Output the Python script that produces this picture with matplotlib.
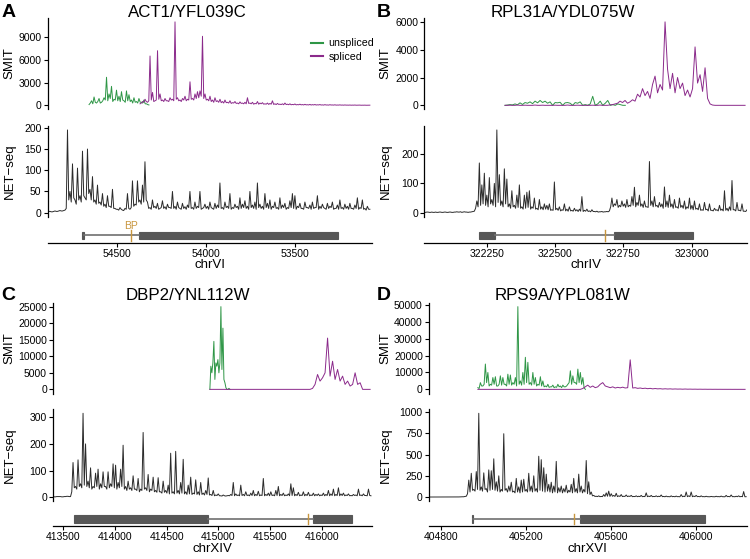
import numpy as np
import matplotlib.pyplot as plt
from matplotlib.patches import Rectangle
from matplotlib.transforms import blended_transform_factory

plt.rcParams['font.family'] = ['Liberation Sans', 'DejaVu Sans']

# ---------------- data ----------------
# A: ACT1/YFL039C, chrVI (minus strand, axis reversed)
act1_xlim = (54893, 53066)
act1_xticks = [54500, 54000, 53500]
act1_smit_ticks = [0, 3000, 6000, 9000]
act1_net_ticks = [0, 50, 100, 150, 200]
act1_net_span = (54893, 53078)
act1_net = [2, 3, 3, 2, 2, 3, 4, 3, 3, 4, 5, 4, 4, 5, 6, 10,
            195, 30, 50, 25, 115, 35, 30, 20, 105, 30, 40, 25, 145, 40, 35, 30, 150, 45,
            55, 30, 85, 25, 30, 20, 65, 22, 25, 18, 45, 15, 20, 12, 40, 15, 15, 12, 55, 10,
            10, 8, 8, 6, 12, 8, 6, 5, 10, 8,
            45, 10, 8, 12, 75, 15, 20, 18, 75, 25, 30, 20, 65, 25, 120, 30,
            25, 10, 12, 8, 30, 12, 15, 10, 22, 8, 10, 12, 28, 10, 14, 8, 20, 12, 12, 10,
            50, 10, 15, 8, 25, 12, 10, 8, 22, 10, 14, 8, 18, 12, 50, 10, 12, 8, 25, 10,
            15, 12, 50, 8, 10, 12, 20, 10, 15, 8, 25, 12, 10, 8, 22, 10, 18, 12, 70, 10,
            12, 8, 25, 12, 15, 10, 45, 8, 12, 10, 20, 12, 15, 8, 35, 10, 20, 12, 28, 10,
            15, 8, 50, 12, 18, 10, 25, 8, 70, 12, 20, 10, 15, 8, 45, 12, 22, 10, 30, 8,
            15, 12, 25, 10, 12, 8, 35, 10, 18, 12, 22, 8, 12, 10, 28, 12, 45, 10, 40, 8,
            15, 12, 22, 10, 10, 8, 25, 12, 12, 10, 18, 8, 25, 10, 12, 12, 40, 8, 15, 10,
            20, 12, 10, 8, 22, 10, 15, 12, 25, 8, 10, 10, 18, 8, 30, 10, 12, 8, 20, 10,
            15, 8, 22, 10, 10, 8, 18, 10, 35, 8, 12, 10, 30, 8, 10, 6, 15, 8, 8]
act1_unspliced_span = (54659, 54322)
act1_unspliced = [100, 300, 600, 200, 1100, 400, 300, 500, 900, 300, 400, 600, 1000, 700,
                  3700, 600, 1500, 900, 2500, 500, 800, 700, 2000, 600, 1200, 500, 1800,
                  700, 600, 400, 1900, 600, 1400, 500, 700, 300, 1000, 400, 500, 300, 900,
                  400, 400, 300, 700, 200, 200, 100, 50]
act1_spliced_span = (54372, 53078)
act1_spliced = [200, 300, 500, 400, 800, 500, 400, 600, 6500, 700, 1700, 500, 600, 700,
                7200, 800, 1500, 600, 700, 500, 900, 600, 600, 500, 1000, 700, 800, 600,
                11000, 800, 1000, 600, 700, 500, 900, 700, 1200, 600, 800, 700, 3100, 800,
                900, 700, 1500, 900, 1800, 1000, 1900, 1200, 9100, 900, 1500, 700, 800,
                600, 1200, 500, 700, 400, 1000, 500, 600, 400, 800, 350, 500, 300, 700,
                350, 400, 300, 600, 250, 350, 300, 500, 250, 300, 200, 450, 250, 300, 200,
                400, 200, 1000, 250, 300, 200, 400, 150, 250, 200, 500, 150, 300, 200, 350,
                150, 200, 150, 300, 120, 250, 150, 600, 120, 200, 100, 250, 120, 150, 100,
                200, 80, 300, 100, 150, 80, 200, 70, 120, 80, 180, 60, 100, 70, 150, 60,
                100, 50, 130, 60, 80, 50, 120, 40, 90, 50, 110, 40, 70, 50, 100, 40, 60, 30,
                90, 40, 50, 30, 80, 40, 50, 30, 70, 25, 40, 30, 60, 25, 40, 20, 50, 25, 30,
                20, 40, 15, 30, 20, 40, 15, 20, 15, 30, 10, 20, 15, 25, 10, 15, 10, 20]
act1_exons = [(54687, 54696), (53260, 54377)]
act1_bp = 54423

# B: RPL31A/YDL075W, chrIV
rpl31a_xlim = (322022, 323202)
rpl31a_xticks = [322250, 322500, 322750, 323000]
rpl31a_smit_ticks = [0, 2000, 4000, 6000]
rpl31a_net_ticks = [0, 100, 200]
rpl31a_net_span = (322022, 323202)
rpl31a_net = [1, 1, 2, 2, 1, 1, 2, 1, 1, 2, 1, 1, 2, 2, 1, 1, 2, 2, 1, 1, 2, 2, 1, 1, 2, 2,
              3, 2, 2, 3, 1, 2, 3, 2, 2, 1, 2, 2, 3, 4, 5, 15,
              40, 20, 170, 25, 95, 30, 135, 25, 60, 20, 120, 30, 45, 25, 100, 20, 283, 35,
              130, 25, 40, 20, 150, 30, 115, 20, 30, 15, 75, 20, 25, 15, 60, 18, 95, 15,
              20, 12, 60, 15, 70, 18, 75, 12, 20, 15, 50, 12, 15, 10, 45, 12, 20, 10, 30,
              12, 25, 10, 30, 8, 10, 8,
              105, 10, 15, 8, 20, 6, 10, 8, 30, 6, 12, 5, 20, 6, 8, 5, 15, 6, 10, 4, 12, 5,
              55, 4, 8, 5, 12, 4, 6, 3, 10, 4, 4, 3, 5, 2, 3, 3, 4, 2, 3, 3, 4, 3, 6, 20,
              50, 20, 30, 25, 45, 18, 25, 20, 40, 22, 30, 18, 45, 20, 25, 22, 55, 25, 87,
              20, 35, 25, 60, 22, 30, 18, 40, 20, 20, 18, 175, 25, 40, 20, 55, 22, 25, 18,
              35, 20, 30, 15, 88, 20, 40, 18, 60, 20, 30, 15, 45, 18, 20, 15, 50, 18, 25,
              15, 40, 12, 20, 15, 50, 12, 25, 10, 40, 12, 15, 10, 30, 8, 10, 8, 35, 10, 12,
              6, 30, 8, 8, 6, 15, 8, 10, 6, 25, 8, 12, 6, 75, 8, 15, 6, 20, 8, 110, 10, 10,
              6, 35, 8, 8, 6, 30, 5, 5, 4, 10]
rpl31a_unspliced_span = (322317, 322757)
rpl31a_unspliced = [0, 20, 50, 30, 100, 40, 180, 60, 200, 150, 250, 120, 300, 180, 350,
                    200, 300, 150, 250, 0, 200, 180, 220, 0, 180, 200, 150, 0, 200, 150,
                    250, 0, 50, 0, 100, 650, 0, 100, 300, 0, 150, 350, 0, 50, 0, 100,
                    50, 0, 0]
rpl31a_spliced_span = (322317, 323195)
rpl31a_spliced = [0, 0, 10, 0, 0, 20, 0, 0, 10, 0, 0, 0, 20, 0, 0, 10, 0, 0, 0, 0, 10,
                  0, 0, 0, 0, 20, 0, 0, 0, 10, 0, 0, 0, 0, 0, 10, 0, 0, 20, 0, 0, 0, 30,
                  50, 100, 150, 300, 200, 350, 150, 250, 400, 300, 800, 600, 1200, 700,
                  1000, 500, 1500, 2100, 900, 1500, 1100, 6000, 2600, 1200, 2300, 900,
                  2000, 1200, 1600, 700, 1100, 600, 1200, 4200, 1600, 2200, 1000, 2700,
                  500, 100, 20, 0, 0, 0, 0, 0, 0, 0, 0, 0, 0, 0, 0, 0]
rpl31a_exons = [(322223, 322281), (322714, 323003)]
rpl31a_bp = 322683

# C: DBP2/YNL112W, chrXIV
dbp2_xlim = (413403, 416484)
dbp2_xticks = [413500, 414000, 414500, 415000, 415500, 416000]
dbp2_smit_ticks = [0, 5000, 10000, 15000, 20000, 25000]
dbp2_net_ticks = [0, 100, 200, 300]
dbp2_net_span = (413403, 416474)
dbp2_net = [2, 1, 1, 2, 2, 2, 2, 1, 1, 2, 2, 3, 3, 2, 2, 20,
            130, 35, 40, 30, 140, 40, 50, 35, 315, 45, 200, 40, 60, 35, 110, 30, 40, 35,
            90, 40, 105, 30, 50, 35, 95, 40, 40, 30, 95, 35, 50, 40, 125, 35, 120, 30, 55,
            35, 105, 40, 195, 30, 40, 25, 60, 30, 35, 25, 80, 30, 30, 25, 70, 20, 30, 25,
            243, 30, 35, 25, 85, 20, 30, 25, 75, 20, 25, 18, 73, 20, 20, 15, 60, 18, 25,
            15, 45, 12, 165, 15, 20, 12, 172, 15, 25, 12, 55, 15, 142, 12, 20, 10, 45, 12,
            75, 10, 15, 12, 65, 10, 20, 8, 55, 10, 15, 8, 25, 10, 72, 8,
            10, 6, 25, 5, 8, 6, 12, 5, 5, 4, 8, 5, 4, 5, 6, 5, 10, 6, 55, 5, 12, 6, 8, 5,
            45, 6, 10, 5, 20, 6, 8, 5, 15, 6, 25, 5, 10, 6, 22, 5, 8, 6, 70, 5, 10, 6, 15,
            5, 20, 6, 8, 5, 25, 6, 40, 5, 10, 6, 15, 5, 8, 6, 12, 5, 50, 6, 35, 5, 10, 6,
            18, 5, 8, 6, 20, 5, 10, 6, 18, 5, 8, 6, 15, 5, 10, 6, 12, 5, 8, 6, 15, 5, 10,
            6, 25, 5, 12, 6, 30, 5, 10, 6, 35, 5, 12, 6, 15, 5, 8, 6, 12, 5, 6, 5, 10, 6,
            8, 5, 30, 6, 8, 5, 12, 6, 6, 5, 30, 6, 5]
dbp2_unspliced_span = (414918, 415112)
dbp2_unspliced = [0, 7000, 5000, 8000, 14500, 3000, 8000, 7000, 9000, 5000, 8000,
                  25000, 6000, 18500, 3000, 2000, 500, 0, 0, 300, 0]
dbp2_spliced_span = (414918, 416466)
dbp2_spliced = [0, 0, 0, 0, 0, 0, 0, 0, 0, 0, 0, 0, 0, 0, 0, 0, 0, 0, 0, 0, 0,
                0, 0, 0, 0, 0, 0, 0, 0, 0, 0, 0, 0, 0, 0, 0, 0, 0, 0, 0, 0,
                300, 1500, 4500, 2500, 3500, 5000, 15500, 4000, 8500, 3000, 6000, 2500,
                4000, 1500, 2500, 1000, 1500, 5000, 1500, 2000, 0, 0, 0, 0]
dbp2_exons = [(413603, 414902), (415912, 416289)]
dbp2_bp = 415869

# D: RPS9A/YPL081W, chrXVI
rps9a_xlim = (404742, 406240)
rps9a_xticks = [404800, 405200, 405600, 406000]
rps9a_smit_ticks = [0, 10000, 20000, 30000, 40000, 50000]
rps9a_net_ticks = [0, 250, 500, 750, 1000]
rps9a_net_span = (404742, 406236)
rps9a_net = [1, 1, 0, 1, 1, 1, 2, 1, 1, 1, 1, 0, 0, 1, 2, 1, 1, 1, 1, 2, 2, 1, 1, 2, 2, 3,
             3, 4, 4, 8,
             10, 40, 200, 60, 280, 80, 90, 70, 300, 90, 985, 80, 120, 70, 285, 90, 100,
             60, 320, 80, 310, 90, 450, 80, 180, 70, 250, 60, 90, 70, 745, 80, 100, 60,
             130, 70, 175, 60, 70, 50, 220, 60, 120, 50, 200, 60, 210, 70, 90, 60, 280, 70,
             130, 60, 250, 70, 100, 60, 480, 80, 440, 70, 345, 60, 270, 70, 150, 60, 175,
             50, 130, 60, 420, 50, 110, 60, 130, 50, 100, 60, 140, 50, 80, 60, 150, 50,
             220, 60, 100, 50, 270, 60, 130, 50, 90, 60, 430, 40, 180, 30, 60, 15,
             20, 8, 10, 6, 15, 5, 8, 6, 30, 8, 50, 10, 70, 8, 40, 10, 20, 8, 45, 6, 15, 8,
             30, 6, 10, 8, 25, 6, 12, 8, 20, 5, 8, 6, 15, 5, 10, 6, 20, 5, 8, 6, 50, 5, 12,
             6, 20, 5, 8, 6, 15, 5, 10, 6, 25, 5, 8, 4, 12, 5, 6, 4, 15, 5, 8, 4, 12, 5, 6,
             4, 30, 5, 10, 6, 60, 5, 15, 6, 60, 5, 12, 6, 20, 5, 8, 4, 15, 5, 6, 4, 10, 5,
             5, 4, 8, 5, 5, 4, 10, 5, 6, 4, 12, 5, 5, 4, 20, 5, 8, 4, 25, 5, 6, 4, 10, 5,
             15, 4, 8, 5, 65, 4, 5]
rps9a_unspliced_span = (404973, 405479)
rps9a_unspliced = [1000, 500, 4000, 2000, 2000, 3000, 15000, 4000, 10000, 2000, 3000, 2500,
                   7000, 3000, 7500, 2000, 2000, 3000, 8000, 2500, 7000, 3000, 3000, 2000,
                   9000, 3000, 8500, 2500, 4000, 3000, 7000, 2000, 49000, 3000, 5000, 2500,
                   10000, 3000, 19000, 4000, 16000, 3000, 4000, 2500, 10000, 3000, 7000,
                   2000, 3000, 2500, 7500, 2000, 5000, 1500, 2000, 1500, 3000, 1200, 1500,
                   1500, 2500, 1000, 1500, 1200, 3000, 1500, 2000, 1000, 2500, 1500, 1500,
                   2000, 3000, 4000, 11000, 3000, 8000, 4000, 4000, 3000, 12000, 4000,
                   10000, 3000, 7000, 1000, 0]
rps9a_spliced_span = (404973, 406231)
rps9a_spliced = [0, 0, 0, 0, 0, 0, 0, 0, 0, 0, 0, 0, 0, 0, 0, 0, 0, 0, 0, 0, 0,
                 0, 0, 0, 0, 0, 0, 0, 0, 0, 0, 0, 0, 0, 0, 0, 0, 0, 0, 0, 0, 0,
                 500, 1500, 2500, 1200, 2000, 1000, 1500, 3000, 4000, 2000, 1500, 1000,
                 1500, 800, 1200, 900, 1300, 800, 1000, 17500, 800, 1000, 600, 800, 500,
                 700, 400, 600, 300, 500, 300, 400, 200, 350, 200, 300, 150, 250, 150,
                 200, 100, 200, 100, 150, 80, 120, 60, 100, 50, 80, 40, 60, 30, 50, 30,
                 40, 20, 30, 20, 25, 10, 20, 10, 15, 5, 10]
rps9a_exons = [(404946, 404952), (405456, 406043)]
rps9a_bp = 405424

panels = [
    dict(letter='A', title='ACT1/YFL039C', chrom='chrVI', xlim=act1_xlim, xticks=act1_xticks,
         smit_ticks=act1_smit_ticks, net_ticks=act1_net_ticks,
         net=(act1_net_span, act1_net), uns=(act1_unspliced_span, act1_unspliced),
         spl=(act1_spliced_span, act1_spliced), exons=act1_exons, bp=act1_bp),
    dict(letter='B', title='RPL31A/YDL075W', chrom='chrIV', xlim=rpl31a_xlim, xticks=rpl31a_xticks,
         smit_ticks=rpl31a_smit_ticks, net_ticks=rpl31a_net_ticks,
         net=(rpl31a_net_span, rpl31a_net), uns=(rpl31a_unspliced_span, rpl31a_unspliced),
         spl=(rpl31a_spliced_span, rpl31a_spliced), exons=rpl31a_exons, bp=rpl31a_bp),
    dict(letter='C', title='DBP2/YNL112W', chrom='chrXIV', xlim=dbp2_xlim, xticks=dbp2_xticks,
         smit_ticks=dbp2_smit_ticks, net_ticks=dbp2_net_ticks,
         net=(dbp2_net_span, dbp2_net), uns=(dbp2_unspliced_span, dbp2_unspliced),
         spl=(dbp2_spliced_span, dbp2_spliced), exons=dbp2_exons, bp=dbp2_bp),
    dict(letter='D', title='RPS9A/YPL081W', chrom='chrXVI', xlim=rps9a_xlim, xticks=rps9a_xticks,
         smit_ticks=rps9a_smit_ticks, net_ticks=rps9a_net_ticks,
         net=(rps9a_net_span, rps9a_net), uns=(rps9a_unspliced_span, rps9a_unspliced),
         spl=(rps9a_spliced_span, rps9a_spliced), exons=rps9a_exons, bp=rps9a_bp),
]

# ---------------- layout / style ----------------
W, H = 750, 559
GREEN = '#2e9646'
PURPLE = '#8b2a8b'
NETC = '#2b2b2b'
BOXC = '#575757'
INTRONC = '#707070'
BPC = '#c8963e'

rows = [dict(smit=(17.7, 109.5), net=(125.8, 216.8), gene=(222.0, 242.7), base=16.7, xlab=259.5),
        dict(smit=(302.5, 393.5), net=(409.1, 501.3), gene=(505.6, 526.3), base=300.0, xlab=543.0)]
cols = [dict(right=372.0, ylab=15.5, center=187.5, letter=1.5),
        dict(right=747.0, ylab=391.5, center=562.5, letter=376.5)]
lefts = [47.5, 424.3, 53.0, 428.8]

fig = plt.figure(figsize=(W / 100, H / 100), dpi=100)


def add_ax(left, right, top, bottom):
    return fig.add_axes([left / W, 1 - bottom / H, (right - left) / W, (bottom - top) / H])


def style_y(ax, label, ticks, xlab_px):
    for s in ['top', 'right', 'bottom']:
        ax.spines[s].set_visible(False)
    ax.spines['left'].set_linewidth(0.9)
    ax.set_yticks(ticks)
    ax.tick_params(axis='y', length=2.8, width=0.8, pad=1.5, labelsize=7.5)
    ax.set_xticks([])
    ax.set_ylabel(label, fontsize=9.5)
    ax.yaxis.set_label_coords(xlab_px / W, 0.5,
                              transform=blended_transform_factory(fig.transFigure, ax.transAxes))


for k, p in enumerate(panels):
    row, col = rows[k // 2], cols[k % 2]
    left, right = lefts[k], col['right']

    # SMIT track
    ax = add_ax(left, right, *row['smit'])
    (s0, s1), vals = p['uns']
    ax.plot(np.linspace(s0, s1, len(vals)), vals, color=GREEN, lw=0.7, label='unspliced')
    (s0, s1), vals2 = p['spl']
    ax.plot(np.linspace(s0, s1, len(vals2)), vals2, color=PURPLE, lw=0.7, label='spliced')
    top = max(max(vals), max(vals2))
    ax.set_ylim(-0.05 * top, 1.05 * top)
    ax.set_xlim(*p['xlim'])
    style_y(ax, 'SMIT', p['smit_ticks'], col['ylab'])
    if k == 0:
        leg = ax.legend(loc='upper left', bbox_to_anchor=(306 / W, 1 - 33 / H),
                        bbox_transform=fig.transFigure, frameon=False, fontsize=7.7,
                        handlelength=1.1, handletextpad=0.5, labelspacing=0.3, borderpad=0)
        for ln in leg.get_lines():
            ln.set_linewidth(1.5)

    # NET-seq track
    ax = add_ax(left, right, *row['net'])
    (s0, s1), vals = p['net']
    ax.plot(np.linspace(s0, s1, len(vals)), vals, color=NETC, lw=0.7)
    ax.set_ylim(-0.05 * max(vals), 1.05 * max(vals))
    ax.set_xlim(*p['xlim'])
    style_y(ax, 'NET\u2212seq', p['net_ticks'], col['ylab'])

    # gene model
    ax = add_ax(left, right, *row['gene'])
    ax.set_xlim(*p['xlim'])
    ax.set_ylim(0, 20.7)
    ex = sorted(p['exons'])
    ax.plot([ex[0][1], ex[1][0]], [7.2, 7.2], color=INTRONC, lw=1.2)
    for a, b in ex:
        ax.add_patch(Rectangle((a, 3.4), b - a, 7.6, facecolor=BOXC, edgecolor=BOXC, lw=0.8))
    ax.plot([p['bp'], p['bp']], [2.0, 12.7], color=BPC, lw=1.0)
    if k == 0:
        ax.text(p['bp'], 16.7, 'BP', color=BPC, fontsize=7.5, ha='center', va='center')
    for s in ['top', 'right', 'left']:
        ax.spines[s].set_visible(False)
    ax.spines['bottom'].set_linewidth(0.9)
    ax.set_yticks([])
    ax.set_xticks(p['xticks'])
    ax.set_xticklabels([str(t) for t in p['xticks']])
    ax.tick_params(axis='x', length=2.8, width=0.8, pad=1.5, labelsize=7.5)
    ax.set_xlabel(p['chrom'], fontsize=9.5)
    ax.xaxis.set_label_coords(0.5, 1 - row['xlab'] / H,
                              transform=blended_transform_factory(ax.transAxes, fig.transFigure))

    # title and panel letter
    fig.text(col['center'] / W, 1 - row['base'] / H, p['title'], fontsize=12.2,
             ha='center', va='baseline')
    fig.text(col['letter'] / W, 1 - row['base'] / H, p['letter'], fontsize=14,
             fontweight='bold', ha='left', va='baseline')

fig.savefig('out.png', dpi=100)
